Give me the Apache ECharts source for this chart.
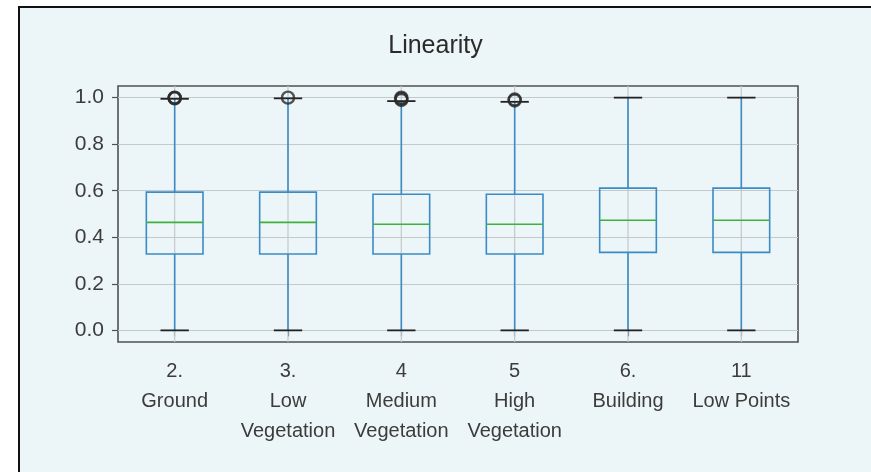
<!DOCTYPE html>
<html>
<head>
<meta charset="utf-8">
<script src="https://cdn.jsdelivr.net/npm/echarts@6/dist/echarts.min.js"></script>
<style>
  html, body { margin: 0; padding: 0; background: #ffffff; }
  #chart { width: 871px; height: 472px; }
</style>
</head>
<body>
<div id="chart"></div>
<script>
// Point-class categories (two-line labels: class code + name)
const categories = ['2.\nGround', '3.\nLow\nVegetation', '4\nMedium\nVegetation', '5\nHigh\nVegetation', '6.\nBuilding', '11\nLow Points'];

// Box statistics per class
const whiskerLow  = [0.000, 0.000, 0.000, 0.000, 0.000, 0.000];
const quartile1   = [0.328, 0.328, 0.328, 0.328, 0.335, 0.335];
const medians     = [0.464, 0.464, 0.456, 0.456, 0.473, 0.473];
const quartile3   = [0.594, 0.594, 0.585, 0.585, 0.611, 0.611];
const whiskerHigh = [0.995, 0.997, 0.985, 0.982, 1.000, 1.000];

// Fliers above the upper whisker
const outliers = [
  [0.997, 0.999, 1.000],
  [1.000],
  [0.990, 0.995, 1.000],
  [0.988, 0.992],
  [],
  []
];

// Y-axis tick labels
const yTicks = [0.0, 0.2, 0.4, 0.6, 0.8, 1.0];
const Y_MIN = -0.05;
const Y_MAX = 1.05;

const boxData = categories.map((c, i) => [i, whiskerLow[i], quartile1[i], medians[i], quartile3[i], whiskerHigh[i]]);
const gridData = categories.map((c, i) => [i, Y_MIN, Y_MAX]);
const flierData = [];
outliers.forEach((list, i) => list.forEach(v => flierData.push([i, v])));

const FONT = '"Liberation Sans", Arial, sans-serif';
const BOX_BLUE = '#3a8cc6';
const MEDIAN_GREEN = '#3db33d';
const CAP_BLACK = '#222222';
const GRID_GREY = '#c4c9cb';

// Vertical grid line through each category tick
function renderGridLine(params, api) {
  const idx = api.value(0);
  const top = api.coord([idx, api.value(2)]);
  const bottom = api.coord([idx, api.value(1)]);
  return {
    type: 'line',
    shape: { x1: top[0], y1: top[1], x2: bottom[0], y2: bottom[1] },
    style: { stroke: GRID_GREY, lineWidth: 1.2 }
  };
}

// Matplotlib-style box: blue box and whiskers, green median, black caps
function renderBox(params, api) {
  const idx = api.value(0);
  const band = api.size([1, 0])[0];
  const boxW = band * 0.5;
  const capW = band * 0.25;
  const pLow = api.coord([idx, api.value(1)]);
  const pQ1 = api.coord([idx, api.value(2)]);
  const pMed = api.coord([idx, api.value(3)]);
  const pQ3 = api.coord([idx, api.value(4)]);
  const pHigh = api.coord([idx, api.value(5)]);
  const x = pQ1[0];
  const line = (x1, y1, x2, y2, color, w) => ({
    type: 'line',
    shape: { x1, y1, x2, y2 },
    style: { stroke: color, lineWidth: w }
  });
  return {
    type: 'group',
    children: [
      line(x, pQ1[1], x, pLow[1], BOX_BLUE, 1.6),
      line(x, pQ3[1], x, pHigh[1], BOX_BLUE, 1.6),
      {
        type: 'rect',
        shape: { x: x - boxW / 2, y: pQ3[1], width: boxW, height: pQ1[1] - pQ3[1] },
        style: { fill: 'none', stroke: BOX_BLUE, lineWidth: 1.6 }
      },
      line(x - boxW / 2, pMed[1], x + boxW / 2, pMed[1], MEDIAN_GREEN, 1.6),
      line(x - capW / 2, pLow[1], x + capW / 2, pLow[1], CAP_BLACK, 1.8),
      line(x - capW / 2, pHigh[1], x + capW / 2, pHigh[1], CAP_BLACK, 1.8)
    ]
  };
}

const chart = echarts.init(document.getElementById('chart'), null, { renderer: 'canvas' });
chart.setOption({
  backgroundColor: '#ffffff',
  animation: false,
  graphic: [{
    type: 'rect',
    z: -10,
    shape: { x: 19, y: 7, width: 900, height: 500 },
    style: { fill: '#ecf5f8', stroke: '#111111', lineWidth: 2 }
  }],
  title: {
    text: 'Linearity',
    left: 'center',
    top: 29,
    textStyle: { fontFamily: FONT, fontSize: 25, fontWeight: 'normal', color: '#2b2b2b' }
  },
  grid: {
    left: 118, right: 73, top: 86, bottom: 130,
    show: true,
    backgroundColor: 'transparent',
    borderColor: '#505050',
    borderWidth: 1.6
  },
  xAxis: {
    type: 'category',
    data: categories,
    boundaryGap: true,
    axisLine: { show: false },
    axisTick: { show: true, alignWithLabel: true, length: 6, inside: false, lineStyle: { color: '#505050', width: 1.2 } },
    axisLabel: {
      interval: 0,
      margin: 14,
      fontFamily: FONT,
      fontSize: 20,
      lineHeight: 30,
      color: '#3c3c3c',
      align: 'center'
    },
    splitLine: { show: false }
  },
  yAxis: {
    type: 'value',
    min: Y_MIN,
    max: Y_MAX,
    axisLine: { show: false },
    axisTick: { show: true, length: 6, customValues: yTicks, lineStyle: { color: '#505050', width: 1.2 } },
    axisLabel: {
      customValues: yTicks,
      margin: 14,
      fontFamily: FONT,
      fontSize: 21,
      color: '#3c3c3c',
      formatter: v => v.toFixed(1)
    },
    splitLine: { show: true, lineStyle: { color: GRID_GREY, width: 1.2 } }
  },
  series: [
    {
      type: 'custom',
      name: 'vgrid',
      renderItem: renderGridLine,
      encode: { x: 0, y: [1, 2] },
      data: gridData,
      silent: true,
      z: 1
    },
    {
      type: 'custom',
      name: 'box',
      renderItem: renderBox,
      encode: { x: 0, y: [1, 2, 3, 4, 5] },
      data: boxData,
      z: 3
    },
    {
      type: 'scatter',
      name: 'fliers',
      data: flierData,
      symbol: 'circle',
      symbolSize: 12,
      itemStyle: { color: 'rgba(0,0,0,0)', borderColor: '#2a2a2a', borderWidth: 2.4 },
      z: 4
    }
  ]
});
</script>
</body>
</html>
